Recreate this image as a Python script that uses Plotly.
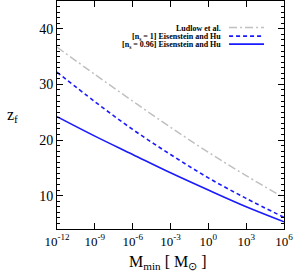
import plotly.graph_objects as go

# Data
mass = [1e-12, 1e-9, 1e-6, 1e-3, 1e0, 1e3, 1e6]
z_ludlow = [36.7, 31.8, 27.0, 22.3, 17.8, 13.6, 9.6]
z_eh_ns1 = [32.2, 26.9, 21.9, 17.4, 13.2, 9.5, 6.1]
z_eh_ns096 = [24.2, 20.7, 17.4, 14.1, 11.0, 8.0, 5.3]

legend_labels = ["Ludlow et al.", "[n<sub>s</sub> = 1] Eisenstein and Hu",
                 "[n<sub>s</sub> = 0.96] Eisenstein and Hu"]
xtick_vals = [1e-12, 1e-9, 1e-6, 1e-3, 1e0, 1e3, 1e6]
xtick_text = ["10<sup>-12</sup>", "10<sup>-9</sup>", "10<sup>-6</sup>", "10<sup>-3</sup>",
              "10<sup>0</sup>", "10<sup>3</sup>", "10<sup>6</sup>"]

FONT = "Liberation Serif, Times New Roman, serif"
GRAY = "#c0c0c0"
BLUE = "#1a1aff"

styles = [dict(color=GRAY, width=1.5, dash="8px,3px,2px,3px"),
          dict(color=BLUE, width=1.6, dash="4px,3px"),
          dict(color=BLUE, width=1.6)]
series = [z_ludlow, z_eh_ns1, z_eh_ns096]

fig = go.Figure()
for ys, st, name in zip(series, styles, legend_labels):
    fig.add_trace(go.Scatter(x=mass, y=ys, mode="lines", line=st, name=name,
                             showlegend=False, line_shape="spline"))

# Legend (text right-aligned, sample line on right)
rows_y = [0.884, 0.846, 0.811]
for lab, st, yy in zip(legend_labels, styles, rows_y):
    fig.add_annotation(x=0.732, y=yy - 0.006, xref="paper", yref="paper",
                       text="<b>" + lab + "</b>",
                       showarrow=False, xanchor="right", yanchor="middle",
                       font=dict(family=FONT, size=8, color="black"))
    fig.add_shape(type="line", xref="paper", yref="paper", x0=0.758, x1=0.912, y0=yy, y1=yy,
                  line=st)

axis_common = dict(showline=True, linecolor="black", linewidth=1, mirror="allticks",
                   ticks="inside", tickcolor="black", showgrid=False, zeroline=False)

fig.update_xaxes(type="log", range=[-12, 6], tickvals=xtick_vals, ticktext=xtick_text,
                 ticklen=6, tickfont=dict(family=FONT, size=13, color="black"),
                 **axis_common)
fig.update_yaxes(range=[4, 45], tickvals=[10, 20, 30, 40], ticklen=6,
                 tickfont=dict(family=FONT, size=14, color="black"),
                 minor=dict(dtick=1, ticks="inside", ticklen=3, tickcolor="black"),
                 **axis_common)

fig.add_annotation(x=-0.194, y=0.5, xref="paper", yref="paper", text="z<sub>f</sub>",
                   showarrow=False, xanchor="center", yanchor="middle",
                   font=dict(family=FONT, size=16, color="black"))
fig.add_annotation(x=0.49, y=-0.097, xref="paper", yref="paper",
                   text="M<sub>min</sub> [ M<sub>⊙</sub> ]",
                   showarrow=False, xanchor="center", yanchor="top",
                   font=dict(family=FONT, size=16, color="black"))

fig.update_layout(width=299, height=272, margin=dict(l=57, r=15, t=1, b=43),
                  plot_bgcolor="white", paper_bgcolor="white",
                  font=dict(family=FONT, color="black"))

fig.write_html("out.html", post_script="document.body.style.margin='0';",
               config={"displayModeBar": False})
